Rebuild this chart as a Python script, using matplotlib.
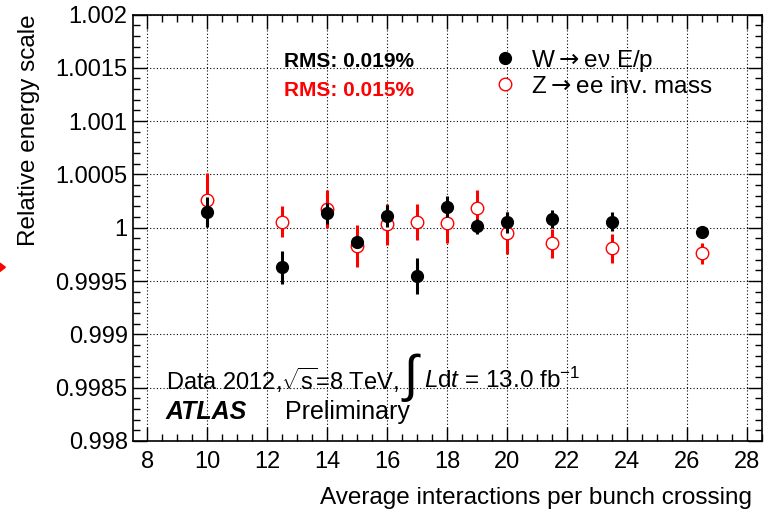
import matplotlib
matplotlib.use('Agg')
import matplotlib.pyplot as plt
from matplotlib.patches import Polygon
from matplotlib.ticker import MultipleLocator

plt.rcParams['font.family'] = ['Liberation Sans', 'DejaVu Sans']
plt.rcParams['mathtext.fontset'] = 'custom'
plt.rcParams['mathtext.rm'] = 'Liberation Sans'
plt.rcParams['mathtext.it'] = 'Liberation Sans:italic'
plt.rcParams['mathtext.bf'] = 'Liberation Sans:bold'

# W -> e nu  E/p
mu_w = [10, 12.5, 14, 15, 16, 17, 18, 19, 20, 21.5, 23.5, 26.5]
scale_w = [1.000145, 0.999628, 1.000135, 0.999869, 1.000110, 0.999550,
           1.000197, 1.000016, 1.000051, 1.000079, 1.000056, 0.999963]
err_w = [0.00014, 0.000155, 0.0001, 0.00005, 0.0001, 0.00017,
         0.0001, 0.00007, 0.0001, 0.000085, 0.00009, 0.00003]

# Z -> ee invariant mass
mu_z = [10, 12.5, 14, 15, 16, 17, 18, 19, 20, 21.5, 23.5, 26.5]
scale_z = [1.000263, 1.000056, 1.000175, 0.999831, 1.000032, 1.000056,
           1.000041, 1.000182, 0.999953, 0.999854, 0.999807, 0.999760]
err_z = [0.00025, 0.000145, 0.00018, 0.000195, 0.00019, 0.00017,
         0.00018, 0.000175, 0.000195, 0.000136, 0.000136, 0.0001]

fig = plt.figure(figsize=(7.69, 5.15), dpi=100)
ax = fig.add_axes([0.1733, 0.1437, 0.8176, 0.8281])

eb_z = ax.errorbar(mu_z, scale_z, yerr=err_z, fmt='o', color='red', mfc='white',
                   mec='red', ms=9, mew=1.0, elinewidth=2.2, capsize=0, zorder=3)
eb_w = ax.errorbar(mu_w, scale_w, yerr=err_w, fmt='o', color='black', ms=8.5,
                   elinewidth=2.2, capsize=0, zorder=4)

ax.set_xlim(7.53, 28.5)
ax.set_ylim(0.998, 1.002)
ax.xaxis.set_major_locator(MultipleLocator(2))
ax.xaxis.set_minor_locator(MultipleLocator(0.5))
ax.yaxis.set_minor_locator(MultipleLocator(0.0001))
ax.set_yticks([0.998, 0.9985, 0.999, 0.9995, 1.0, 1.0005, 1.001, 1.0015, 1.002])
ax.set_yticklabels(['0.998', '0.9985', '0.999', '0.9995', '1', '1.0005', '1.001', '1.0015', '1.002'])
ax.tick_params(which='both', direction='in', top=True, right=True, labelsize=17)
ax.tick_params(which='major', length=10, width=1)
ax.tick_params(which='minor', length=5, width=1)
ax.tick_params(axis='x', pad=7)
ax.tick_params(axis='y', pad=4)
ax.grid(True, which='major', color='black', linestyle=(0, (1, 2)), linewidth=0.8)
for s in ax.spines.values():
    s.set_linewidth(1.2)

ax.set_ylabel('Relative energy scale', fontsize=17.5, loc='top')
ax.yaxis.set_label_coords(-0.148, 1.0)
ax.set_xlabel('Average interactions per bunch crossing', fontsize=17.5, loc='right')
ax.xaxis.set_label_coords(0.984, -0.109)

ax.text(0.2397, 0.889, 'RMS: 0.019%', transform=ax.transAxes, fontsize=15,
        fontweight='bold', color='black', va='center')
ax.text(0.2397, 0.823, 'RMS: 0.015%', transform=ax.transAxes, fontsize=15,
        fontweight='bold', color='red', va='center')

leg = ax.legend([eb_w[0], eb_z[0]], ['W$\\rightarrow$eν E/p', 'Z$\\rightarrow$ee inv. mass'],
                loc='upper left', bbox_to_anchor=(0.552, 0.95), frameon=False,
                fontsize=17.5, handlelength=1.0, handletextpad=0.6, labelspacing=0.08,
                borderpad=0)
for t in leg.get_texts():
    t.set_math_fontfamily('dejavusans')

ax.text(0.052, 0.143, 'Data 2012,$\\sqrt{\\mathrm{s}}$=8 TeV,', transform=ax.transAxes,
        fontsize=17, va='center')
ax.text(0.460, 0.148, '$\\int$', transform=ax.transAxes, fontsize=37, va='center',
        ha='right')
ax.text(0.462, 0.143, '$L$d$t$ = 13.0 fb$^{-1}$', transform=ax.transAxes,
        fontsize=17.5, va='center')
ax.text(0.052, 0.068, 'ATLAS', transform=ax.transAxes, fontsize=18,
        fontweight='bold', style='italic', va='center')
ax.text(0.241, 0.068, 'Preliminary', transform=ax.transAxes, fontsize=18,
        va='center')

# small red arrow tip at the left edge of the image
fig.add_artist(Polygon([[0.0, 0.473], [0.0, 0.489], [0.007, 0.481]],
                       closed=True, color='red', transform=fig.transFigure))

fig.savefig('out.png', dpi=100)
